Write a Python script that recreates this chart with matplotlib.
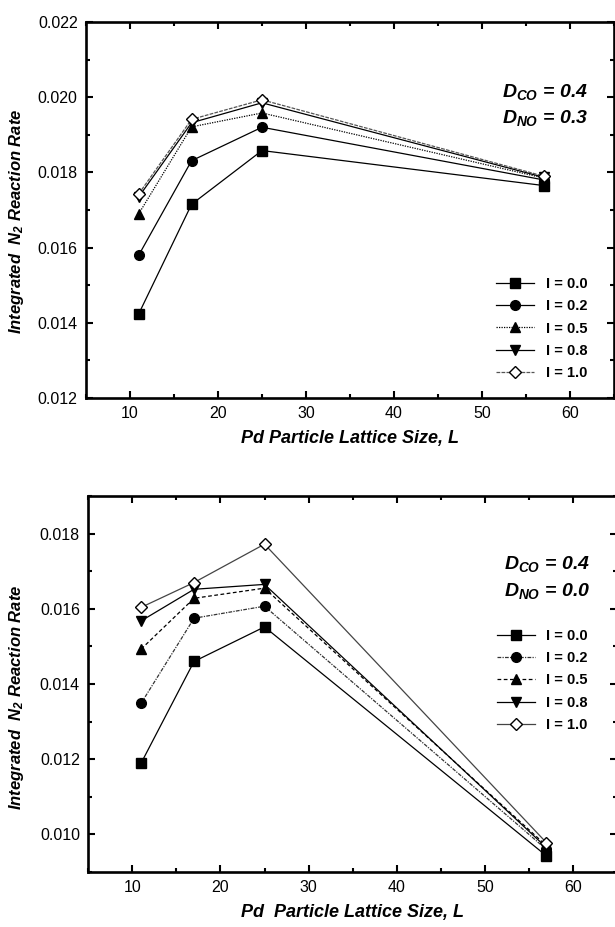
import matplotlib
matplotlib.use("Agg")
import matplotlib.pyplot as plt
from matplotlib.ticker import MultipleLocator, FormatStrFormatter

plt.rcParams['font.family'] = ['Liberation Sans', 'DejaVu Sans']
plt.rcParams['mathtext.fontset'] = 'custom'
plt.rcParams['mathtext.rm'] = 'Liberation Sans:italic:bold'
plt.rcParams['mathtext.it'] = 'Liberation Sans:italic:bold'
plt.rcParams['mathtext.bf'] = 'Liberation Sans:italic:bold'

# lattice sizes
sizes = [11, 17, 25, 57]
labels = ["I = 0.0", "I = 0.2", "I = 0.5", "I = 0.8", "I = 1.0"]

# D_NO = 0.3 (top)
top_rates = [
    [0.01424, 0.01715, 0.01858, 0.01765],
    [0.01580, 0.01831, 0.01920, 0.01780],
    [0.01690, 0.01921, 0.01958, 0.01785],
    [0.01735, 0.01932, 0.01985, 0.01787],
    [0.01743, 0.01941, 0.01993, 0.01790],
]

# D_NO = 0.0 (bottom)
bot_rates = [
    [0.01190, 0.01460, 0.01552, 0.00943],
    [0.01349, 0.01575, 0.01607, 0.00960],
    [0.01493, 0.01628, 0.01655, 0.00970],
    [0.01568, 0.01652, 0.01665, 0.00965],
    [0.01604, 0.01670, 0.01772, 0.00978],
]

markers = ['s', 'o', '^', 'v', 'D']
top_styles = [('-', 'black'), ('-', 'black'), ((0, (1, 1)), 'black'),
              ('-', 'black'), ((0, (3, 1)), '#555555')]
bot_styles = [('-', 'black'), ((0, (3, 1, 1, 1)), '#333333'), ((0, (3, 2)), 'black'),
              ('-', 'black'), ('-', '#444444')]


def draw_panel(ax, rates, styles, ylim, dno, leg_anchor, txt_pos, ylab_pos, xlab, ylab):
    for i in range(len(labels)):
        ls, col = styles[i]
        face = 'white' if markers[i] == 'D' else 'black'
        ms = 6 if markers[i] == 'D' else 7
        ax.plot(sizes, rates[i], linestyle=ls, color=col, linewidth=0.9,
                marker=markers[i], markersize=ms, markerfacecolor=face,
                markeredgecolor='black', markeredgewidth=1.0, label=labels[i])

    ax.set_xlim(5, 65)
    ax.set_ylim(*ylim)
    ax.xaxis.set_major_locator(MultipleLocator(10))
    ax.xaxis.set_minor_locator(MultipleLocator(5))
    ax.yaxis.set_major_locator(MultipleLocator(0.002))
    ax.yaxis.set_minor_locator(MultipleLocator(0.001))
    ax.yaxis.set_major_formatter(FormatStrFormatter('%.3f'))
    ax.tick_params(which='both', direction='in', top=True, right=True, width=1.5)
    ax.tick_params(which='major', length=5, labelsize=11.5, pad=6)
    ax.tick_params(which='minor', length=3)
    for s in ax.spines.values():
        s.set_linewidth(1.9)

    ax.set_xlabel(xlab, fontsize=13, fontweight='bold', fontstyle='italic', labelpad=6)
    ax.set_ylabel(ylab, fontsize=12, fontweight='bold', fontstyle='italic')
    ax.yaxis.set_label_coords(*ylab_pos)

    ax.text(txt_pos[0], txt_pos[1], r"$D_{CO}$ = 0.4", transform=ax.transAxes,
            ha='right', va='baseline', fontsize=14, fontweight='bold', fontstyle='italic')
    ax.text(txt_pos[0], txt_pos[2], r"$D_{NO}$ = " + dno, transform=ax.transAxes,
            ha='right', va='baseline', fontsize=14, fontweight='bold', fontstyle='italic')

    leg = ax.legend(loc='upper right', bbox_to_anchor=leg_anchor, frameon=False,
                    prop={'weight': 'bold', 'size': 10.5}, handlelength=2.6,
                    handletextpad=0.8, labelspacing=0.57, borderpad=0, borderaxespad=0)
    return leg


fig = plt.figure(figsize=(6.15, 9.27), dpi=100)
ax1 = fig.add_axes([0.1398, 0.5707, 0.8585, 0.4056])
ax2 = fig.add_axes([0.1436, 0.0593, 0.8595, 0.4056])

draw_panel(ax1, top_rates, top_styles, (0.012, 0.022), "0.3", (0.95, 0.322),
           (0.951, 0.80, 0.731), (-0.114, 0.47), "Pd Particle Lattice Size, L",
           r"Integrated  $N_2$ Reaction Rate")
draw_panel(ax2, bot_rates, bot_styles, (0.009, 0.019), "0.0", (0.945, 0.647),
           (0.949, 0.806, 0.734), (-0.118, 0.465), "Pd  Particle Lattice Size, L",
           r"Integrated  $N_2$ Reaction Rate")

fig.savefig("out.png", dpi=100)
